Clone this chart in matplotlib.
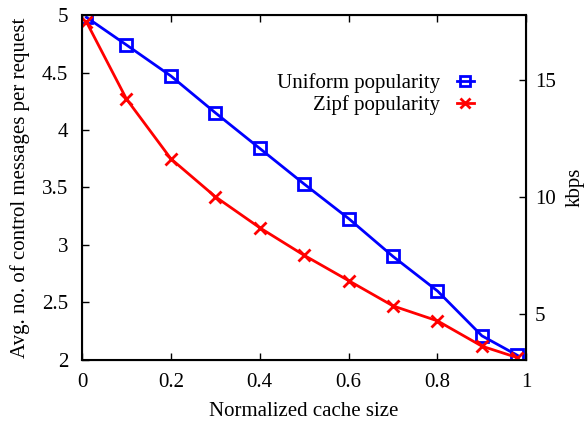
import matplotlib
matplotlib.use("Agg")
import matplotlib.pyplot as plt

# ── Data ──────────────────────────────────────────────────────────────────────
cache_size = [0.01, 0.1, 0.2, 0.3, 0.4, 0.5, 0.6, 0.7, 0.8, 0.9, 0.98]
uniform_msgs = [4.98, 4.74, 4.47, 4.15, 3.84, 3.53, 3.23, 2.90, 2.60, 2.21, 2.04]
zipf_msgs = [4.94, 4.27, 3.75, 3.42, 3.15, 2.91, 2.69, 2.47, 2.34, 2.12, 2.02]

x_ticks = [0, 0.2, 0.4, 0.6, 0.8, 1]
y_ticks = [2, 2.5, 3, 3.5, 4, 4.5, 5]
y2_ticks = [5, 10, 15]

FS = 15
plt.rcParams["font.family"] = ["Liberation Serif", "DejaVu Serif"]

fig = plt.figure(figsize=(5.87, 4.23), dpi=100)
ax = fig.add_axes([0.1397, 0.149, 0.757, 0.8155])

ax.plot(cache_size, uniform_msgs, color="#0000ff", linewidth=2,
        marker="s", markersize=9, markerfacecolor="none", markeredgewidth=2,
        label="Uniform popularity")
ax.plot(cache_size, zipf_msgs, color="#ff0000", linewidth=2,
        marker="x", markersize=9, markeredgewidth=2,
        label="Zipf popularity")

ax.set_xlim(0, 1)
ax.set_ylim(2, 5)
ax.set_xticks(x_ticks)
ax.set_xticklabels(["0", "0.2", "0.4", "0.6", "0.8", "1"])
ax.set_yticks(y_ticks)
ax.set_yticklabels(["2", "2.5", "3", "3.5", "4", "4.5", "5"])
ax.tick_params(direction="in", labelsize=FS, top=True, length=5, width=1)
ax.tick_params(axis="y", pad=10)
ax.tick_params(axis="x", pad=9.5)
for s in ax.spines.values():
    s.set_linewidth(1.5)

ax.set_xlabel("Normalized cache size", fontsize=FS, labelpad=7)
ax.set_ylabel("Avg. no. of control messages per request", fontsize=FS)
ax.yaxis.set_label_coords(-0.118, 0.5)

ax2 = ax.twinx()
ax2.set_ylim(3.03, 17.78)
ax2.set_yticks(y2_ticks)
ax2.tick_params(direction="in", labelsize=FS, length=5, width=1, pad=6)
ax2.set_ylabel("kbps", fontsize=FS)
ax2.yaxis.set_label_coords(1.088, 0.5)

leg = ax.legend(loc="center right", bbox_to_anchor=(0.905, 0.77), frameon=False,
                markerfirst=False, fontsize=FS, handlelength=0.8,
                handletextpad=0.8, labelspacing=0.1, borderpad=0,
                markerscale=0.75)
leg._legend_box.align = "right"
for t in leg.get_texts():
    t.set_ha("right")

fig.savefig("out.png", dpi=100)
